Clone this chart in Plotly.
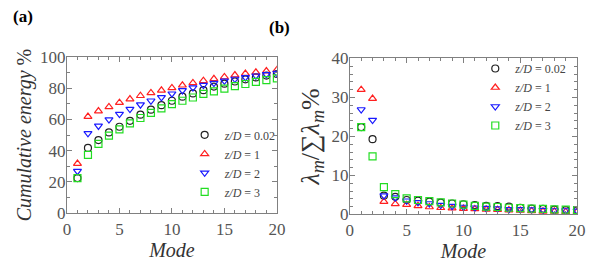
import plotly.graph_objects as go

modes = list(range(1, 21))
series_names = ["<i>z/D</i> = 0.02", "<i>z/D</i> = 1", "<i>z/D</i> = 2", "<i>z/D</i> = 3"]

cum_002 = [22.5, 41.8, 46.8, 51.7, 55.3, 59.1, 63.0, 66.2, 69.1, 71.9, 74.5, 76.6, 78.7, 81.0, 82.8, 84.2, 85.6, 86.8, 88.0, 89.0]
cum_1 = [31.8, 61.8, 65.3, 68.0, 70.7, 73.0, 75.1, 76.9, 78.6, 80.1, 81.8, 83.3, 84.7, 85.9, 87.1, 88.3, 89.3, 90.1, 90.9, 91.6]
cum_2 = [26.9, 51.1, 55.8, 59.9, 63.4, 66.6, 69.4, 71.9, 74.1, 76.4, 78.5, 80.3, 81.9, 83.2, 84.6, 85.8, 86.8, 87.9, 88.8, 89.5]
cum_3 = [22.5, 37.3, 44.3, 49.6, 53.6, 57.4, 60.9, 64.2, 67.1, 69.7, 71.9, 74.0, 76.3, 77.9, 79.6, 81.2, 82.6, 84.0, 85.1, 86.2]

lam_002 = [22.4, 19.3, 4.8, 4.5, 3.7, 3.5, 3.3, 3.0, 2.8, 2.6, 2.4, 2.2, 2.1, 2.0, 1.7, 1.5, 1.4, 1.2, 1.1, 1.0]
lam_1 = [32.0, 29.7, 3.3, 2.7, 2.5, 2.2, 1.9, 1.7, 1.6, 1.5, 1.4, 1.3, 1.2, 1.1, 1.0, 0.9, 0.8, 0.8, 0.7, 0.7]
lam_2 = [26.9, 24.2, 4.8, 4.3, 3.5, 3.1, 2.8, 2.4, 2.1, 1.9, 1.7, 1.6, 1.5, 1.3, 1.3, 1.2, 1.1, 1.0, 1.0, 0.9]
lam_3 = [22.4, 14.9, 7.0, 5.2, 4.1, 3.7, 3.4, 3.1, 2.8, 2.5, 2.2, 2.0, 1.9, 1.7, 1.6, 1.5, 1.4, 1.3, 1.2, 1.1]

styles = [
    dict(symbol="circle-open", color="#222222"),
    dict(symbol="triangle-up-open", color="#ff2020"),
    dict(symbol="triangle-down-open", color="#1a1aff"),
    dict(symbol="square-open", color="#22dd22"),
]

fig = go.Figure()
for name, ys, st in zip(series_names, [cum_002, cum_1, cum_2, cum_3], styles):
    fig.add_trace(go.Scatter(x=modes, y=ys, mode="markers", name=name,
                             marker=dict(symbol=st["symbol"], color=st["color"], size=7,
                                         line=dict(width=1.2, color=st["color"])),
                             xaxis="x", yaxis="y", legend="legend"))
for name, ys, st in zip(series_names, [lam_002, lam_1, lam_2, lam_3], styles):
    fig.add_trace(go.Scatter(x=modes, y=ys, mode="markers", name=name,
                             marker=dict(symbol=st["symbol"], color=st["color"], size=7,
                                         line=dict(width=1.2, color=st["color"])),
                             xaxis="x2", yaxis="y2", legend="legend2"))

serif = "Liberation Serif"
tickfont = dict(family=serif, size=17, color="#555555")
titlefont = dict(family=serif, size=20, color="#333333")
axcol = "#808080"

def xax(domain, anchor):
    return dict(domain=domain, anchor=anchor, range=[0, 20], dtick=5, tick0=0,
                showline=True, linecolor=axcol, linewidth=1, mirror="allticks",
                ticks="inside", ticklen=5, tickcolor=axcol, automargin=False,
                minor=dict(dtick=1, ticks="inside", ticklen=3, tickcolor=axcol),
                showgrid=False, zeroline=False, tickfont=tickfont,
                title=dict(text="<i>Mode</i>", font=titlefont, standoff=2))

def yax(domain, anchor, rng, dtick, minor, title, size, standoff):
    return dict(domain=domain, anchor=anchor, range=rng, dtick=dtick, tick0=0,
                showline=True, linecolor=axcol, linewidth=1, mirror="allticks",
                ticks="inside", ticklen=5, tickcolor=axcol, automargin=False,
                minor=dict(dtick=minor, ticks="inside", ticklen=3, tickcolor=axcol),
                showgrid=False, zeroline=False, tickfont=tickfont, ticklabelstandoff=-3,
                title=dict(text=title, font=dict(family=serif, size=size, color="#333333"),
                           standoff=standoff))

fig.update_layout(
    width=598, height=277,
    margin=dict(l=0, r=0, t=0, b=0),
    paper_bgcolor="white", plot_bgcolor="white",
    xaxis=xax([0.112, 0.463], "y"),
    yaxis=yax([0.230, 0.795], "x", [0, 100], 20, 10, "<i>Cumulative energy</i> %", 20, 3),
    xaxis2=xax([0.585, 0.965], "y2"),
    yaxis2=yax([0.226, 0.789], "x2", [0, 40], 10, 2,
               "<i>λ<sub>m</sub></i>/∑<i>λ<sub>m</sub></i>%", 26, 4),
    legend=dict(x=0.471, y=0.255, xanchor="right", yanchor="bottom",
                bgcolor="rgba(0,0,0,0)", font=dict(family=serif, size=12, color="#444444"),
                tracegroupgap=0, itemwidth=30),
    legend2=dict(x=0.957, y=0.805, xanchor="right", yanchor="top",
                 bgcolor="rgba(0,0,0,0)", font=dict(family=serif, size=12, color="#444444"),
                 tracegroupgap=0, itemwidth=30),
    annotations=[
        dict(text="<b>(a)</b>", x=0.0, y=1.0, xref="paper", yref="paper", xanchor="left",
             yanchor="top", showarrow=False, font=dict(family=serif, size=17, color="black"),
             xshift=11, yshift=-5),
        dict(text="<b>(b)</b>", x=0.0, y=1.0, xref="paper", yref="paper", xanchor="left",
             yanchor="top", showarrow=False, font=dict(family=serif, size=17, color="black"),
             xshift=267, yshift=-16),
    ],
)

fig.write_html("out.html", config={"displayModeBar": False},
               post_script="document.body.style.margin='0';")
